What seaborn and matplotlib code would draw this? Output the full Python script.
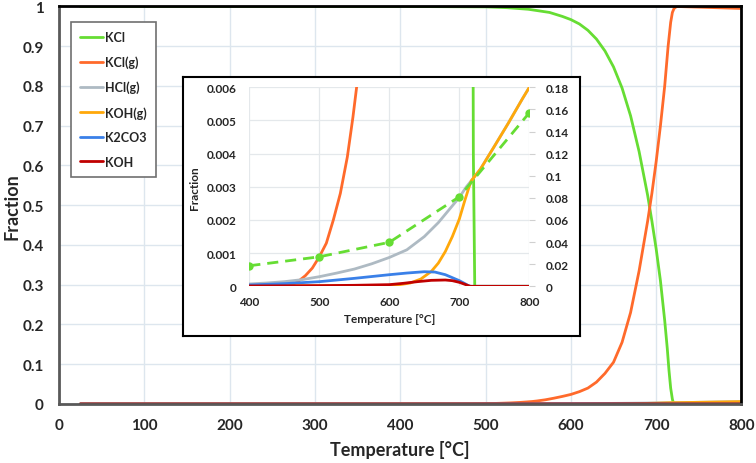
import numpy as np
import pandas as pd
import matplotlib
matplotlib.use('Agg')
import matplotlib.pyplot as plt
import seaborn as sns

# ---- data ----
kcl_T = [25, 400, 500, 525, 550, 575, 590, 600, 610, 620, 630, 640, 650, 660, 670, 680, 690, 695,
         700, 705, 710, 713, 715, 717, 719, 720, 722, 800]
kcl = [1.0, 1.0, 0.999, 0.997, 0.993, 0.985, 0.975, 0.967, 0.956, 0.94, 0.918, 0.888, 0.848, 0.795,
       0.725, 0.635, 0.525, 0.46, 0.39, 0.31, 0.21, 0.14, 0.085, 0.04, 0.012, 0.004, 0.0, 0.0]

kclg_T = [25, 455, 462, 470, 480, 490, 500, 510, 520, 530, 540, 548, 555, 560, 570, 580, 590, 600,
          610, 620, 630, 640, 650, 660, 670, 680, 690, 695, 700, 705, 710, 714, 717, 719, 721, 724, 800]
kclg = [0, 0, 0.00006, 0.00015, 0.00032, 0.00055, 0.00089, 0.0013, 0.002, 0.0028, 0.0039, 0.0051,
        0.0063, 0.0075, 0.0105, 0.0145, 0.019, 0.024, 0.031, 0.04, 0.055, 0.077, 0.105, 0.155, 0.23,
        0.335, 0.46, 0.53, 0.61, 0.70, 0.80, 0.90, 0.96, 0.985, 0.995, 1.0, 0.995]

hcl_T = [25, 400, 425, 450, 475, 500, 525, 550, 575, 600, 625, 650, 670, 685, 700, 710, 717, 730,
         750, 770, 790, 800]
hcl = [0, 0.00007, 0.0001, 0.00014, 0.0002, 0.00029, 0.0004, 0.00052, 0.00068, 0.00087, 0.0011,
       0.0015, 0.00192, 0.0023, 0.00268, 0.003, 0.00318, 0.00353, 0.00422, 0.00492, 0.00565, 0.006]

kohg_T = [25, 600, 615, 630, 645, 660, 670, 680, 690, 700, 708, 714, 717, 730, 750, 770, 790, 800]
kohg = [0, 0.00002, 0.00005, 0.0001, 0.00022, 0.00045, 0.0007, 0.00105, 0.0015, 0.00203, 0.0026,
        0.003, 0.00318, 0.00353, 0.00422, 0.00492, 0.00565, 0.006]

k2co3_T = [25, 400, 450, 500, 550, 600, 625, 650, 665, 680, 690, 700, 708, 713, 716, 800]
k2co3 = [0, 0.00004, 0.00008, 0.00014, 0.00024, 0.00035, 0.0004, 0.00044, 0.00043, 0.00035,
         0.00026, 0.00017, 0.00008, 0.00002, 0, 0]

koh_T = [25, 400, 500, 550, 600, 620, 640, 660, 680, 690, 700, 708, 714, 716, 800]
koh = [0, 0.00001, 0.00002, 0.00003, 0.00005, 0.00009, 0.00014, 0.00018, 0.00019, 0.00017,
       0.00012, 0.00006, 0.00001, 0, 0]

# dashed series on the inset's right axis
dash_T = [400, 500, 600, 700, 800]
dash = [0.0186, 0.0267, 0.0398, 0.081, 0.157]

labels = ['KCl', 'KCl(g)', 'HCl(g)', 'KOH(g)', 'K2CO3', 'KOH']
colors = ['#66dd33', '#ff6a2b', '#aebac3', '#ffa80a', '#3a80e8', '#c00000']
series = [(kcl_T, kcl), (kclg_T, kclg), (hcl_T, hcl), (kohg_T, kohg), (k2co3_T, k2co3), (koh_T, koh)]

main_xticks = [0, 100, 200, 300, 400, 500, 600, 700, 800]
main_yticks = [0, 0.1, 0.2, 0.3, 0.4, 0.5, 0.6, 0.7, 0.8, 0.9, 1.0]
main_ylabels = ['0', '0.1', '0.2', '0.3', '0.4', '0.5', '0.6', '0.7', '0.8', '0.9', '1']
inset_xticks = [400, 500, 600, 700, 800]
inset_yticks = [0, 0.001, 0.002, 0.003, 0.004, 0.005, 0.006]
inset_ylabels = ['0', '0.001', '0.002', '0.003', '0.004', '0.005', '0.006']
right_yticks = [0, 0.02, 0.04, 0.06, 0.08, 0.1, 0.12, 0.14, 0.16, 0.18]
right_ylabels = ['0', '0.02', '0.04', '0.06', '0.08', '0.1', '0.12', '0.14', '0.16', '0.18']

sns.set_style('white')
plt.rcParams['font.family'] = ['Lato', 'DejaVu Sans']
plt.rcParams['font.weight'] = 'bold'

fig = plt.figure(figsize=(7.56, 4.64), dpi=100)

# ---- main axes ----
ax = fig.add_axes([0.078, 0.1272, 0.9028, 0.8567])
for (T, v), lab, c in zip(series, labels, colors):
    sns.lineplot(x=T, y=v, ax=ax, color=c, lw=2, label=lab, estimator=None, sort=False)

ax.set_xlim(0, 800)
ax.set_ylim(0, 1)
ax.set_xticks(main_xticks)
ax.set_xticklabels([str(t) for t in main_xticks], fontsize=11, fontweight='bold')
ax.set_yticks(main_yticks)
ax.set_yticklabels(main_ylabels, fontsize=11, fontweight='bold')
ax.tick_params(axis='both', length=0)
ax.tick_params(axis='x', pad=10)
ax.tick_params(axis='y', pad=11)
ax.grid(True, color='#dde6ee', lw=1)
ax.set_axisbelow(True)
ax.set_xlabel('Temperature [°C]', fontsize=13, fontweight='bold', labelpad=6)
ax.set_ylabel('Fraction', fontsize=13, fontweight='bold')
ax.yaxis.set_label_coords(-0.056, 0.5)
for s in ['left', 'bottom']:
    ax.spines[s].set_color('#595959')
    ax.spines[s].set_linewidth(2)
for s in ['top', 'right']:
    ax.spines[s].set_color('black')
    ax.spines[s].set_linewidth(2)

leg = ax.legend(loc='upper left', bbox_to_anchor=(0.0176, 0.962),
                prop={'weight': 'bold', 'size': 9}, frameon=True, fancybox=False,
                framealpha=1, edgecolor='#707070', labelspacing=1.0, handlelength=1.85,
                handletextpad=0.15, borderpad=0.75, borderaxespad=0)
leg.get_frame().set_linewidth(1.2)
for h in leg.get_lines():
    h.set_linewidth(2)

# ---- inset box ----
box = fig.add_axes([0.2421, 0.2744, 0.5251, 0.5582], zorder=2)
box.set_xticks([])
box.set_yticks([])
box.set_facecolor('white')
for s in box.spines.values():
    s.set_color('black')
    s.set_linewidth(1.5)

# ---- inset axes ----
ins = fig.add_axes([0.3298, 0.3808, 0.3704, 0.4289], zorder=3)
for (T, v), lab, c in zip(series, labels, colors):
    sns.lineplot(x=T, y=v, ax=ins, color=c, lw=2, estimator=None, sort=False, legend=False)
ins.set_xlim(400, 800)
ins.set_ylim(0, 0.006)
ins.set_xticks(inset_xticks)
ins.set_xticklabels([str(t) for t in inset_xticks], fontsize=8.5, fontweight='bold')
ins.set_yticks(inset_yticks)
ins.set_yticklabels(inset_ylabels, fontsize=8.5, fontweight='bold')
ins.tick_params(axis='x', length=0, pad=7)
ins.tick_params(axis='y', length=0, pad=9)
ins.grid(True, color='#e4e8eb', lw=0.9)
ins.set_axisbelow(True)
for s in ins.spines.values():
    s.set_visible(False)
ins.set_xlabel('Temperature [°C]', fontsize=8.5, fontweight='bold', labelpad=4)
ins.set_ylabel('Fraction', fontsize=8.5, fontweight='bold', labelpad=5)

rax = ins.twinx()
rax.set_zorder(4)
rax.patch.set_visible(False)
sns.lineplot(x=dash_T, y=dash, ax=rax, color='#66dd33', lw=2, linestyle=(0, (4, 2.5)),
             marker='o', markersize=6, markeredgewidth=0, estimator=None, sort=False, legend=False)
rax.set_ylim(0, 0.18)
rax.set_yticks(right_yticks)
rax.set_yticklabels(right_ylabels, fontsize=8.5, fontweight='bold')
rax.tick_params(axis='y', length=4, color='#d0d0d0', pad=8)
rax.set_ylabel('')
for s in rax.spines.values():
    s.set_visible(False)

fig.savefig('out.png', dpi=100)
